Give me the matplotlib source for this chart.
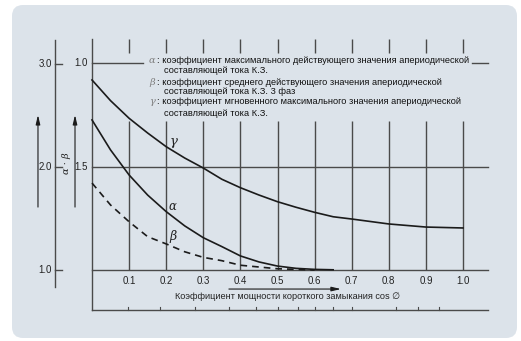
import matplotlib.pyplot as plt
from matplotlib.patches import FancyBboxPatch
from matplotlib.transforms import IdentityTransform

# данные
x_gamma = [0.0, 0.05, 0.1, 0.15, 0.2, 0.25, 0.3, 0.35, 0.4, 0.45, 0.5, 0.55, 0.6, 0.65, 0.7, 0.8, 0.9, 1.0]
gamma = [2.845, 2.644, 2.473, 2.330, 2.197, 2.087, 1.990, 1.881, 1.799, 1.728, 1.663, 1.609, 1.560, 1.517, 1.495, 1.447, 1.417, 1.408]

x_alpha = [0.0, 0.05, 0.1, 0.15, 0.2, 0.25, 0.3, 0.35, 0.4, 0.45, 0.5, 0.55, 0.6, 0.65]
alpha = [1.725, 1.580, 1.459, 1.362, 1.282, 1.213, 1.156, 1.113, 1.068, 1.039, 1.019, 1.008, 1.003, 1.001]

x_beta = [0.0, 0.05, 0.1, 0.15, 0.2, 0.25, 0.3, 0.35, 0.4, 0.5, 0.6]
beta = [1.420, 1.314, 1.233, 1.161, 1.126, 1.088, 1.061, 1.045, 1.023, 1.006, 1.0]

x_ticks = [0.1, 0.2, 0.3, 0.4, 0.5, 0.6, 0.7, 0.8, 0.9, 1.0]
x_ticklabels = ['0.1', '0.2', '0.3', '0.4', '0.5', '0.6', '0.7', '0.8', '0.9', '1.0']
bottom_ticks = [0.097, 0.183, 0.277, 0.369, 0.442, 0.501, 0.555, 0.601, 0.650, 0.701, 0.819, 0.879, 0.935]
gamma_ticks = [3.0, 2.0, 1.0]
gamma_ticklabels = ['3.0', '2.0', '1.0']
ab_ticks = [2.0, 1.5]
ab_ticklabels = ['1.0', '1.5']

legend_symbols = ['α', 'β', 'γ']
legend_lines = [
    ('коэффициент максимального действующего значения апериодической', 'составляющей тока К.З.'),
    ('коэффициент среднего действующего значения апериодической', 'составляющей тока К.З. 3 фаз'),
    ('коэффициент мгновенного максимального значения апериодической', 'составляющей тока К.З.'),
]

xlabel = 'Коэффициент мощности короткого замыкания cos ∅'
ylabel = 'α · β'

plt.rcParams['font.family'] = ['Liberation Sans Narrow', 'Liberation Sans', 'DejaVu Sans']

W, H = 521, 341
fig = plt.figure(figsize=(W / 100, H / 100), dpi=100)
fig.patch.set_facecolor('white')

panel_color = '#dce3ea'
fig.patches.append(FancyBboxPatch((12, 3), 505, 333, boxstyle='round,pad=0,rounding_size=11',
                                  transform=IdentityTransform(), facecolor=panel_color,
                                  edgecolor='none', zorder=-5))

# оси: x 0 -> 92 px, 0.1 = 37.1 px; y 1.0 -> 270 px, 207 px на единицу
px_x = 371.0
px_y = 207.0
xlim = (-0.2, 1.1)
ylim = (0.7, 2.2)
left = 92 + xlim[0] * px_x
right = 92 + xlim[1] * px_x
top = 270 - (ylim[1] - 1) * px_y
bottom = 270 + (1 - ylim[0]) * px_y
rect = [left / W, (H - bottom) / H, (right - left) / W, (bottom - top) / H]

ax = fig.add_axes(rect)
ax.set_xlim(*xlim)
ax.set_ylim(*ylim)
ax.axis('off')

# шкала γ: 1.0 -> 270 px, 103 px на единицу
k = px_y / 103.0
axg = fig.add_axes(rect, sharex=ax)
axg.set_ylim(1 + (ylim[0] - 1) * k, 1 + (ylim[1] - 1) * k)
axg.axis('off')
axg.patch.set_alpha(0)

grid_c = '#4a4a4a'
line_c = '#1b1b1b'
text_c = '#222222'
glw = 1.0

# вертикальные линии сетки (с разрывом под пояснением)
for x in x_ticks:
    ax.plot([x, x], [1.0, 1.72], color=grid_c, lw=glw, solid_capstyle='butt')
    ax.plot([x, x], [2.048, 2.116], color=grid_c, lw=glw, solid_capstyle='butt')

# рамка и горизонтальные линии
ax.plot([0, 0], [0.807, 2.116], color=grid_c, lw=glw, clip_on=False)
ax.plot([0, 1.067], [0.807, 0.807], color=grid_c, lw=glw)
ax.plot([0, 1.067], [1.0, 1.0], color=grid_c, lw=glw)
ax.plot([0, 1.067], [1.5, 1.5], color=grid_c, lw=glw)
ax.plot([0, 0.137], [2.0, 2.0], color=grid_c, lw=glw)
ax.plot([1.024, 1.067], [2.0, 2.0], color=grid_c, lw=glw)

for x in bottom_ticks:
    ax.plot([x, x], [0.807, 0.822], color=grid_c, lw=0.8)

# внешняя шкала γ
xo = -0.0997
ax.plot([xo, xo], [0.918, 2.111], color=grid_c, lw=glw)
for v, lab in zip(gamma_ticks, gamma_ticklabels):
    axg.plot([xo, -0.081], [v, v], color=grid_c, lw=glw)
    axg.text(-0.108, v, lab, ha='right', va='center', fontsize=7, color=text_c)

for v, lab in zip(ab_ticks, ab_ticklabels):
    ax.text(-0.011, v, lab, ha='right', va='center', fontsize=7, color=text_c)

# стрелки
for xa in [-0.1456, -0.0458]:
    ax.annotate('', xy=(xa, 1.749), xytext=(xa, 1.304),
                arrowprops=dict(arrowstyle='-|>,head_length=0.55,head_width=0.13',
                                color=line_c, lw=0.8, shrinkA=0, shrinkB=0))
ax.annotate('', xy=(0.671, 0.908), xytext=(0.369, 0.908),
            arrowprops=dict(arrowstyle='-|>,head_length=0.55,head_width=0.13',
                            color=line_c, lw=0.8, shrinkA=0, shrinkB=0))

ax.text(-0.0674, 1.517, ylabel, rotation=90, ha='center', va='center', fontsize=7,
        style='italic', family=['DejaVu Serif'], color=text_c)

# подписи оси x
for x, lab in zip(x_ticks, x_ticklabels):
    ax.text(x, 0.947, lab, ha='center', va='center', fontsize=7, color=text_c)
ax.text(0.526, 0.872, xlabel, ha='center', va='center', fontsize=6.6, color=text_c)

# кривые
axg.plot(x_gamma, gamma, color=line_c, lw=1.2)
ax.plot(x_alpha, alpha, color=line_c, lw=1.2)
ax.plot(x_beta, beta, color=line_c, lw=1.2, linestyle=(0, (4, 3)))

ax.text(0.221, 1.620, 'γ', fontsize=9.5, style='italic', family=['DejaVu Serif'], color=text_c,
        ha='center', va='center')
ax.text(0.218, 1.306, 'α', fontsize=8.5, style='italic', family=['DejaVu Serif'], color=text_c,
        ha='center', va='center')
ax.text(0.218, 1.161, 'β', fontsize=9, style='italic', family=['DejaVu Serif'], color=text_c,
        ha='center', va='center')

# пояснения
leg_y = [(2.010, 1.966), (1.908, 1.860), (1.812, 1.758)]
for sym, (l1, l2), (y1, y2) in zip(legend_symbols, legend_lines, leg_y):
    ax.text(0.162, y1, sym, ha='center', va='center', fontsize=7, style='italic',
            family=['DejaVu Serif'], color='#808080')
    ax.text(0.176, y1, ': ' + l1, ha='left', va='center', fontsize=6.65, color='#111111')
    ax.text(0.194, y2, l2, ha='left', va='center', fontsize=6.65, color='#111111')

fig.savefig('out.png', dpi=100, facecolor='white')
